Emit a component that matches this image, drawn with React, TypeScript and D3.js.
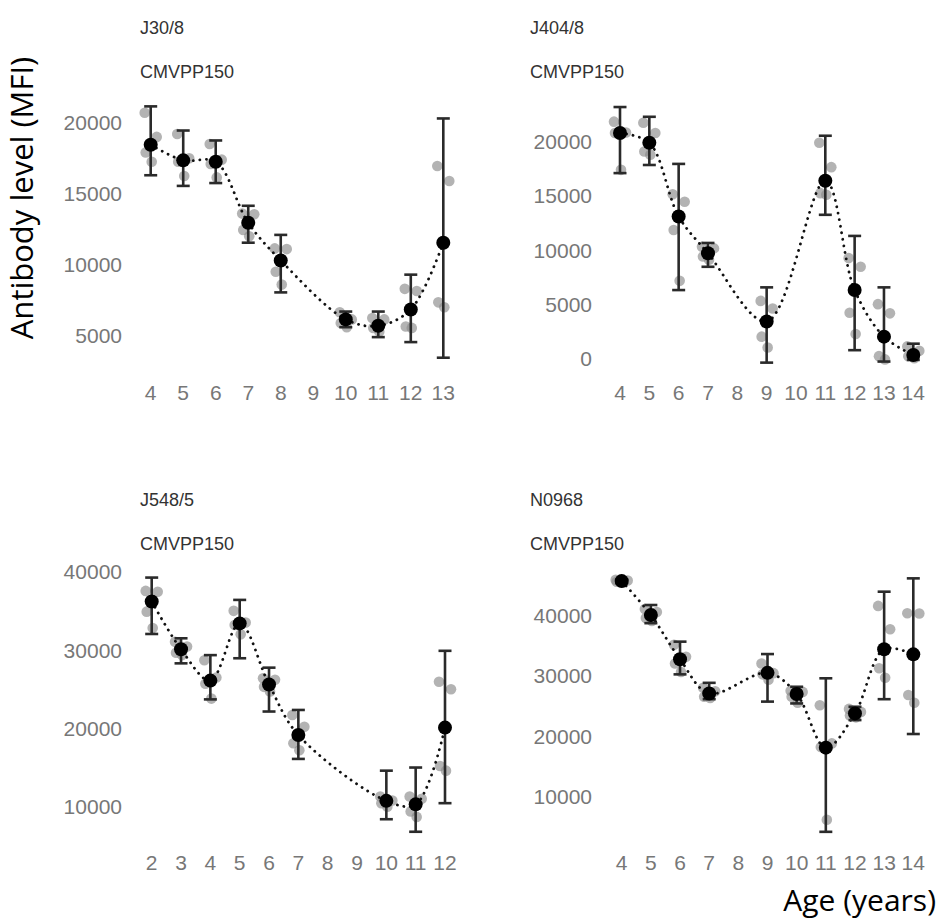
import React from "react";
import * as d3 from "d3";

// ---------- DATA ----------
const panelNames = ["J30/8", "J404/8", "J548/5", "N0968"];
const antigen = "CMVPP150";

const ages1 = [4, 5, 6, 7, 8, 10, 11, 12, 13];
const mean1 = [18400, 17300, 17200, 12900, 10250, 6100, 5650, 6800, 11500];
const lo1 = [16250, 15500, 15700, 11500, 8000, 5550, 4850, 4500, 3400];
const hi1 = [21100, 19400, 18700, 14100, 12050, 6650, 6650, 9250, 20250];
const dots1 = [
  [20650, 18950, 17850, 17200],
  [19150, 17450, 17200, 16200],
  [18450, 17350, 17050, 16100],
  [13550, 13500, 12400, 11950],
  [11100, 11050, 9450, 8550],
  [6600, 6100, 5850, 5550],
  [6200, 6100, 5500, 5250],
  [8250, 8100, 5600, 5500],
  [16900, 15850, 7300, 6950],
];
const xTicks1 = [4, 5, 6, 7, 8, 9, 10, 11, 12, 13];
const yTicks1 = [5000, 10000, 15000, 20000];

const ages2 = [4, 5, 6, 7, 9, 11, 12, 13, 14];
const mean2 = [20800, 19900, 13100, 9700, 3400, 16400, 6300, 2000, 300];
const lo2 = [17100, 17850, 6300, 8450, -400, 13250, 750, -300, -150];
const hi2 = [23200, 22300, 17950, 10650, 6550, 20550, 11300, 6550, 1350];
const dots2 = [
  [21850, 20850, 20800, 17400],
  [21750, 20800, 19100, 18800],
  [15150, 14450, 11850, 7150],
  [10300, 10150, 9400, 9100],
  [5300, 4600, 2000, 1000],
  [19900, 17650, 15250, 15100],
  [9250, 8450, 4200, 2250],
  [5000, 4150, 200, -100],
  [1100, 700, 200, 0],
];
const xTicks2 = [4, 5, 6, 7, 8, 9, 10, 11, 12, 13, 14];
const yTicks2 = [0, 5000, 10000, 15000, 20000];

const ages3 = [2, 3, 4, 5, 6, 7, 10, 11, 12];
const mean3 = [36200, 30100, 26100, 33400, 25600, 19150, 10750, 10300, 20100];
const lo3 = [32050, 28300, 23700, 28950, 22150, 16100, 8400, 6800, 10450];
const hi3 = [39250, 31500, 29350, 36400, 27750, 22350, 14600, 15000, 29900];
const dots3 = [
  [37550, 37450, 34900, 32800],
  [31050, 30450, 29650, 29350],
  [28700, 26500, 25700, 23800],
  [35000, 33500, 33200, 32000],
  [26400, 26200, 25300, 24700],
  [21700, 20200, 18100, 17200],
  [11300, 10800, 10450, 10000],
  [11300, 11000, 9400, 8700],
  [25950, 25000, 15200, 14600],
];
const xTicks3 = [2, 3, 4, 5, 6, 7, 8, 9, 10, 11, 12];
const yTicks3 = [10000, 20000, 30000, 40000];

const ages4 = [4, 5, 6, 7, 9, 10, 11, 12, 13, 14];
const mean4 = [45600, 40000, 32700, 27050, 30450, 26950, 18100, 23750, 34350, 33500];
const lo4 = [45300, 38650, 30200, 26100, 25700, 25400, 4200, 22650, 26100, 20350];
const hi4 = [45850, 41650, 35600, 28800, 33550, 28150, 29550, 24850, 43850, 46050];
const dots4 = [
  [45800, 45700, 45500, 45400],
  [41000, 40500, 39500, 39000],
  [35100, 33100, 32000, 30600],
  [28000, 27400, 26500, 26300],
  [32000, 30400, 30200, 29300],
  [27500, 27300, 26500, 25500],
  [25100, 18800, 18200, 6200],
  [24500, 24000, 23400, 23100],
  [41500, 37650, 31200, 29650],
  [40300, 40250, 26800, 25500],
];
const xTicks4 = [4, 5, 6, 7, 8, 9, 10, 11, 12, 13, 14];
const yTicks4 = [10000, 20000, 30000, 40000];

const yTitle = "Antibody level (MFI)";
const xTitle = "Age (years)";

// ---------- LAYOUT ----------
const W = 940;
const H = 922;
const JITTER = [-6, 6, -5, 1];

const panels = [
  {
    name: panelNames[0], ages: ages1, mean: mean1, lo: lo1, hi: hi1, dots: dots1,
    xTicks: xTicks1, yTicks: yTicks1,
    xDom: [4, 13], xRange: [150.7, 443.3], yDom: [5000, 20000], yRange: [335, 122],
    labelRight: 122, titleX: 140, titleY: 34, subY: 78, xLabY: 392,
  },
  {
    name: panelNames[1], ages: ages2, mean: mean2, lo: lo2, hi: hi2, dots: dots2,
    xTicks: xTicks2, yTicks: yTicks2,
    xDom: [4, 14], xRange: [620, 913.3], yDom: [0, 20000], yRange: [358.3, 141.7],
    labelRight: 592, titleX: 530, titleY: 34, subY: 78, xLabY: 392,
  },
  {
    name: panelNames[2], ages: ages3, mean: mean3, lo: lo3, hi: hi3, dots: dots3,
    xTicks: xTicks3, yTicks: yTicks3,
    xDom: [2, 12], xRange: [151.7, 445], yDom: [10000, 40000], yRange: [806.7, 571.7],
    labelRight: 122, titleX: 140, titleY: 506, subY: 550, xLabY: 862,
  },
  {
    name: panelNames[3], ages: ages4, mean: mean4, lo: lo4, hi: hi4, dots: dots4,
    xTicks: xTicks4, yTicks: yTicks4,
    xDom: [4, 14], xRange: [621.7, 913.3], yDom: [10000, 40000], yRange: [796.7, 615],
    labelRight: 592, titleX: 530, titleY: 506, subY: 550, xLabY: 862,
  },
];

const tickFont = "'Liberation Sans Narrow', 'Arial Narrow', 'Liberation Sans', Arial, sans-serif";
const titleFont = "'Liberation Sans', Arial, sans-serif";
const axisFont = "'Open Sans', 'Noto Sans', sans-serif";

function Panel({ p }: { p: any }) {
  const x = d3.scaleLinear().domain(p.xDom).range(p.xRange);
  const y = d3.scaleLinear().domain(p.yDom).range(p.yRange);
  const line = d3
    .line<number>()
    .x((_, i) => x(p.ages[i]))
    .y((d) => y(d))
    .curve(d3.curveCatmullRom.alpha(0.5));
  const cap = 6.5;
  return (
    <g>
      <text x={p.titleX} y={p.titleY} fontFamily={titleFont} fontSize={18} fill="#333">
        {p.name}
      </text>
      <text x={p.titleX} y={p.subY} fontFamily={titleFont} fontSize={18} fill="#333">
        {antigen}
      </text>
      {p.yTicks.map((t: number) => (
        <text
          key={"y" + t}
          x={p.labelRight}
          y={y(t)}
          textAnchor="end"
          dominantBaseline="central"
          fontFamily={tickFont}
          fontSize={21}
          fill="#777"
        >
          {t}
        </text>
      ))}
      {p.xTicks.map((t: number) => (
        <text
          key={"x" + t}
          x={x(t)}
          y={p.xLabY}
          textAnchor="middle"
          dominantBaseline="central"
          fontFamily={tickFont}
          fontSize={21}
          fill="#777"
        >
          {t}
        </text>
      ))}
      {/* raw points */}
      {p.dots.map((arr: number[], i: number) =>
        arr.map((v, j) => (
          <circle
            key={`d${i}-${j}`}
            cx={x(p.ages[i]) + JITTER[j % JITTER.length]}
            cy={y(v)}
            r={5.3}
            fill="#8a8a8a"
            fillOpacity={0.65}
          />
        ))
      )}
      {/* dotted curve */}
      <path
        d={line(p.mean) || ""}
        fill="none"
        stroke="#111"
        strokeWidth={2.8}
        strokeDasharray="0.1 6.5"
        strokeLinecap="round"
      />
      {/* error bars */}
      {p.ages.map((a: number, i: number) => (
        <g key={"e" + a} stroke="#2a2a2a" strokeWidth={2.6}>
          <line x1={x(a)} x2={x(a)} y1={y(p.lo[i])} y2={y(p.hi[i])} />
          <line x1={x(a) - cap} x2={x(a) + cap} y1={y(p.lo[i])} y2={y(p.lo[i])} />
          <line x1={x(a) - cap} x2={x(a) + cap} y1={y(p.hi[i])} y2={y(p.hi[i])} />
        </g>
      ))}
      {p.ages.map((a: number, i: number) => (
        <circle key={"m" + a} cx={x(a)} cy={y(p.mean[i])} r={7} fill="#000" />
      ))}
    </g>
  );
}

export default function App() {
  return (
    <svg
      width={W}
      height={H}
      viewBox={`0 0 ${W} ${H}`}
      style={{ position: "absolute", left: 0, top: 0, background: "#fff" }}
    >
      <rect x={0} y={0} width={W} height={H} fill="#fff" />
      {panels.map((p) => (
        <Panel key={p.name} p={p} />
      ))}
      <text
        transform={`translate(33, 198) rotate(-90)`}
        textAnchor="middle"
        fontFamily={axisFont}
        fontSize={31}
        fill="#000"
      >
        {yTitle}
      </text>
      <text x={936} y={911} textAnchor="end" fontFamily={axisFont} fontSize={30} fill="#000">
        {xTitle}
      </text>
    </svg>
  );
}
